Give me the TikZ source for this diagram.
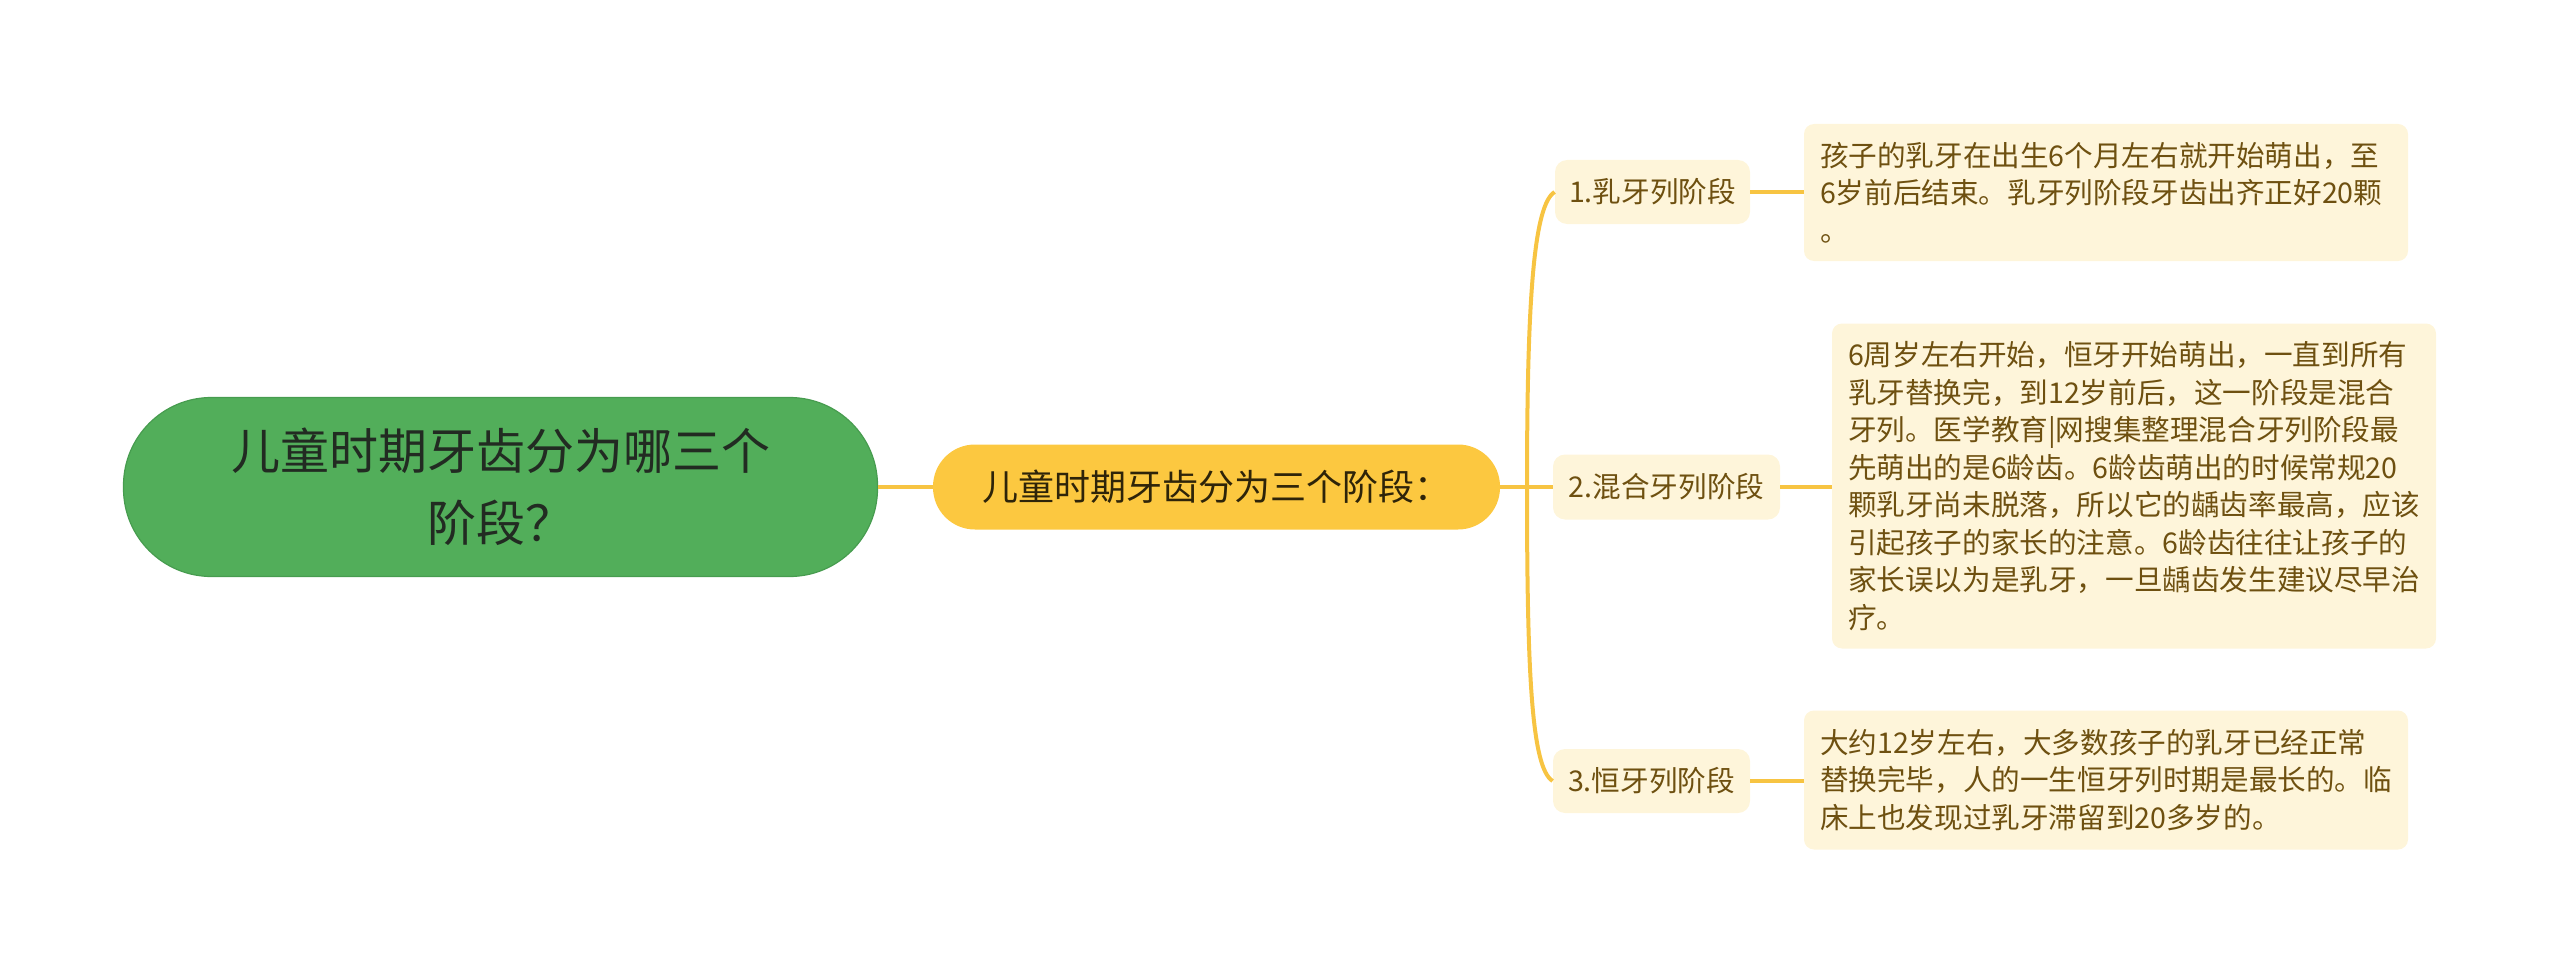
\documentclass[tikz,border=0pt]{standalone}
\usepackage{fontspec}
\newfontfamily\cjk{Noto Sans CJK SC}
\definecolor{rootfill}{HTML}{52AE5A}
\definecolor{rootline}{HTML}{479C4F}
\definecolor{roottext}{HTML}{222B22}
\definecolor{mainfill}{HTML}{FCC840}
\definecolor{maintext}{HTML}{2E2409}
\definecolor{subfill}{HTML}{FEF5DA}
\definecolor{subtext}{HTML}{6E5010}
\definecolor{connc}{HTML}{F7C442}
\tikzset{
  rootnode/.style={draw=rootline, line width=0.6pt, fill=rootfill, rounded corners=44pt,
    minimum width=377pt, minimum height=89.5pt, inner sep=0pt, align=center,
    text=roottext, font=\cjk\fontsize{24.5pt}{36pt}\selectfont},
  mainnode/.style={fill=mainfill, rounded corners=21pt, minimum width=283.5pt,
    minimum height=42.5pt, inner sep=0pt, text=maintext, font=\cjk\fontsize{18pt}{22pt}\selectfont},
  subnode/.style={fill=subfill, rounded corners=6pt, minimum height=32pt, inner sep=0pt,
    text=subtext, font=\cjk\fontsize{14.3pt}{18pt}\selectfont},
  leafnode/.style={fill=subfill, rounded corners=5pt, text width=286pt, inner xsep=8pt,
    inner ysep=0pt, align=left, minimum width=302pt, text=subtext,
    font=\cjk\fontsize{14.3pt}{18.75pt}\selectfont},
  conn/.style={draw=connc, line width=2pt},
}
\begin{document}
\begin{tikzpicture}[x=0.5pt,y=-0.5pt]
\useasboundingbox (0,0) rectangle (2560,974);
\node[rootnode] (root) at (500.5,487) {儿童时期牙齿分为哪三个\\阶段？};
\node[mainnode] (main) at (1216.5,487) {儿童时期牙齿分为三个阶段：};
\node[subnode, minimum width=97.5pt] (c1) at (1652.5,192) {1.乳牙列阶段};
\node[subnode, minimum width=113.5pt, minimum height=32.5pt] (c2) at (1666.5,487) {2.混合牙列阶段};
\node[subnode, minimum width=98.5pt] (c3) at (1651.5,781) {3.恒牙列阶段};
\node[leafnode, minimum height=68.5pt] (l1) at (2106,192.5) {孩子的乳牙在出生6个月左右就开始萌出，至\\6岁前后结束。乳牙列阶段牙齿出齐正好20颗\\。};
\node[leafnode, minimum height=162.5pt] (l2) at (2134,486) {6周岁左右开始，恒牙开始萌出，一直到所有\\乳牙替换完，到12岁前后，这一阶段是混合\\牙列。医学教育|网搜集整理混合牙列阶段最\\先萌出的是6龄齿。6龄齿萌出的时候常规20\\颗乳牙尚未脱落，所以它的龋齿率最高，应该\\引起孩子的家长的注意。6龄齿往往让孩子的\\家长误以为是乳牙，一旦龋齿发生建议尽早治\\疗。};
\node[leafnode, minimum height=69.5pt] (l3) at (2106,780) {大约12岁左右，大多数孩子的乳牙已经正常\\替换完毕，人的一生恒牙列时期是最长的。临\\床上也发现过乳牙滞留到20多岁的。};
\coordinate (br) at (1527,487);
\begin{scope}[on background layer/.try]
\end{scope}
\draw[conn] (root.east) -- (main.west);
\draw[conn] (main.east) -- (c2.west);
\draw[conn] (br) .. controls +(0,-187) and +(-21,13) .. (c1.west);
\draw[conn] (br) .. controls +(0,187) and +(-21,-13) .. (c3.west);
\draw[conn] (c1.east) -- (c1.east -| l1.west);
\draw[conn] (c2.east) -- (c2.east -| l2.west);
\draw[conn] (c3.east) -- (c3.east -| l3.west);
\end{tikzpicture}
\end{document}
